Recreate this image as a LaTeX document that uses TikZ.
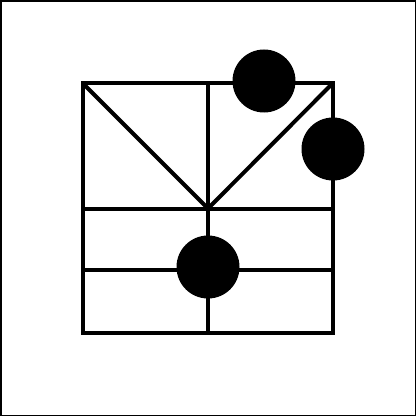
\documentclass[tikz,border=0pt]{standalone}
\begin{document}
\begin{tikzpicture}[x=1pt,y=-1pt,
  grid/.style={line width=4pt},
  dot/.style={circle,fill=black,minimum size=63pt,inner sep=0pt}]
\useasboundingbox (0,0) rectangle (417,417);
\draw[line width=1.5pt] (0.9,0.9) rectangle (415.6,415.6);
\coordinate (tl) at (82.5,83);
\coordinate (tr) at (333,83);
\coordinate (bl) at (82.5,333);
\coordinate (br) at (333,333);
\coordinate (c) at (208,208.5);
\coordinate (tm) at (208,83);
\coordinate (bm) at (208,333);
\coordinate (ml) at (82.5,208.5);
\coordinate (mr) at (333,208.5);
\coordinate (ll) at (82.5,270);
\coordinate (lr) at (333,270);
\draw[grid] (tl) rectangle (br);
\draw[grid] (tm) -- (bm);
\draw[grid] (ml) -- (mr);
\draw[grid] (ll) -- (lr);
\draw[grid] (tl) -- (c) -- (tr);
\node[dot] (d1) at (264,81) {};
\node[dot] (d2) at (333,149) {};
\node[dot] (d3) at (208,267) {};
\end{tikzpicture}
\end{document}
